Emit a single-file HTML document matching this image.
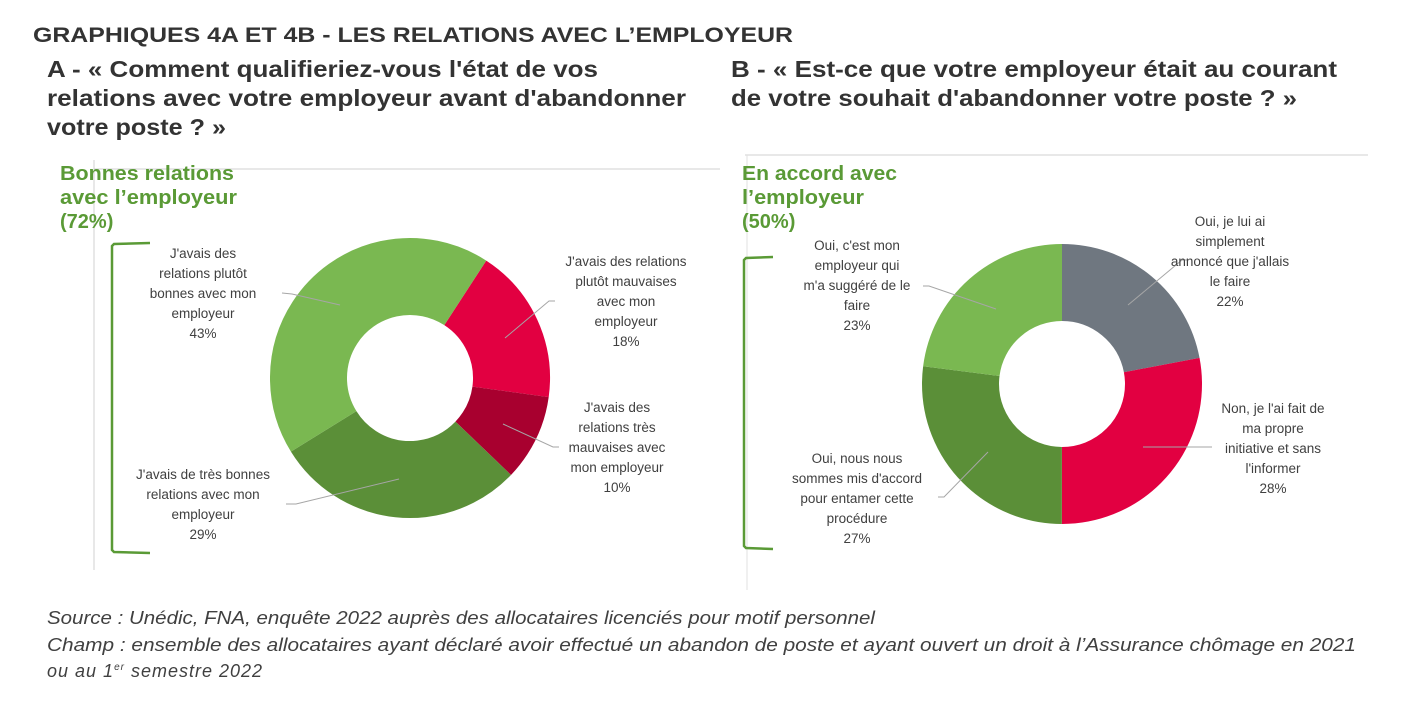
<!DOCTYPE html>
<html><head><meta charset="utf-8"><style>
html,body{margin:0;padding:0;background:#fff;}
svg{display:block;}
</style></head><body>
<svg width="1402" height="708" viewBox="0 0 1402 708" xmlns="http://www.w3.org/2000/svg" font-family="Liberation Sans, sans-serif">
<text x="33" y="42" font-size="21" font-weight="bold" fill="#333" textLength="760" lengthAdjust="spacingAndGlyphs">GRAPHIQUES 4A ET 4B - LES RELATIONS AVEC L’EMPLOYEUR</text>
<g font-size="23.5" font-weight="bold" fill="#333">
<text x="47" y="77" textLength="551" lengthAdjust="spacingAndGlyphs">A - « Comment qualifieriez-vous l'état de vos</text>
<text x="47" y="106" textLength="639" lengthAdjust="spacingAndGlyphs">relations avec votre employeur avant d'abandonner</text>
<text x="47" y="135" textLength="179" lengthAdjust="spacingAndGlyphs">votre poste ? »</text>
<text x="731" y="77" textLength="606" lengthAdjust="spacingAndGlyphs">B - « Est-ce que votre employeur était au courant</text>
<text x="731" y="106" textLength="566" lengthAdjust="spacingAndGlyphs">de votre souhait d'abandonner votre poste ? »</text>
</g>
<line x1="94" y1="169" x2="720" y2="169" stroke="#d0d0d0" stroke-width="1"/>
<line x1="94" y1="160" x2="94" y2="570" stroke="#d0d0d0" stroke-width="1"/>
<line x1="745" y1="155" x2="1368" y2="155" stroke="#d0d0d0" stroke-width="1"/>
<line x1="747" y1="155" x2="747" y2="590" stroke="#e0e0e0" stroke-width="1"/>
<g font-size="20" font-weight="bold" fill="#5a9a36">
<text x="60" y="180" textLength="174" lengthAdjust="spacingAndGlyphs">Bonnes relations</text>
<text x="60" y="204" textLength="177" lengthAdjust="spacingAndGlyphs">avec l’employeur</text>
<text x="60" y="228">(72%)</text>
<text x="742" y="180" textLength="155" lengthAdjust="spacingAndGlyphs">En accord avec</text>
<text x="742" y="204" textLength="122" lengthAdjust="spacingAndGlyphs">l’employeur</text>
<text x="742" y="228">(50%)</text>
</g>
<path d="M150,243 L114,244 L112,246 L112,550 L114,552 L150,553" fill="none" stroke="#5a9a36" stroke-width="2.5"/>
<path d="M773,257 L746,258 L744,260 L744,546 L746,548 L773,549" fill="none" stroke="#5a9a36" stroke-width="2.5"/>
<g transform="translate(410,378) rotate(-57)" fill="none" stroke-width="77">
<circle r="101.5" stroke="#e20041" stroke-dasharray="114.79 637.74" stroke-dashoffset="0"/>
<circle r="101.5" stroke="#a8002f" stroke-dasharray="63.77 637.74" stroke-dashoffset="-114.79"/>
<circle r="101.5" stroke="#5b8f38" stroke-dasharray="184.94 637.74" stroke-dashoffset="-178.57"/>
<circle r="101.5" stroke="#7ab851" stroke-dasharray="274.23 637.74" stroke-dashoffset="-363.51"/>
</g>
<g transform="translate(1062,384) rotate(-90)" fill="none" stroke-width="77">
<circle r="101.5" stroke="#6f7780" stroke-dasharray="140.30 637.74" stroke-dashoffset="0"/>
<circle r="101.5" stroke="#e20041" stroke-dasharray="178.57 637.74" stroke-dashoffset="-140.30"/>
<circle r="101.5" stroke="#5b8f38" stroke-dasharray="172.19 637.74" stroke-dashoffset="-318.87"/>
<circle r="101.5" stroke="#7ab851" stroke-dasharray="146.68 637.74" stroke-dashoffset="-491.06"/>
</g>
<g stroke="#a6a6a6" stroke-width="1" fill="none">
<polyline points="282,293 292,294 340,305"/>
<polyline points="555,301 549,301 505,338"/>
<polyline points="559,447 553,447 503,424"/>
<polyline points="286,504 296,504 399,479"/>
<polyline points="923,286 929,286 996,309"/>
<polyline points="1188,260 1182,260 1128,305"/>
<polyline points="1212,447 1143,447"/>
<polyline points="938,497 944,497 988,452"/>
</g>
<g font-size="13.5" fill="#404040" text-anchor="middle">
<text x="203" y="258">J'avais des</text><text x="203" y="278">relations plutôt</text><text x="203" y="298">bonnes avec mon</text><text x="203" y="318">employeur</text><text x="203" y="338">43%</text>
<text x="626" y="266">J'avais des relations</text><text x="626" y="286">plutôt mauvaises</text><text x="626" y="306">avec mon</text><text x="626" y="326">employeur</text><text x="626" y="346">18%</text>
<text x="617" y="412">J'avais des</text><text x="617" y="432">relations très</text><text x="617" y="452">mauvaises avec</text><text x="617" y="472">mon employeur</text><text x="617" y="492">10%</text>
<text x="203" y="479">J'avais de très bonnes</text><text x="203" y="499">relations avec mon</text><text x="203" y="519">employeur</text><text x="203" y="539">29%</text>
<text x="857" y="250">Oui, c'est mon</text><text x="857" y="270">employeur qui</text><text x="857" y="290">m'a suggéré de le</text><text x="857" y="310">faire</text><text x="857" y="330">23%</text>
<text x="1230" y="226">Oui, je lui ai</text><text x="1230" y="246">simplement</text><text x="1230" y="266">annoncé que j'allais</text><text x="1230" y="286">le faire</text><text x="1230" y="306">22%</text>
<text x="1273" y="413">Non, je l'ai fait de</text><text x="1273" y="433">ma propre</text><text x="1273" y="453">initiative et sans</text><text x="1273" y="473">l'informer</text><text x="1273" y="493">28%</text>
<text x="857" y="463">Oui, nous nous</text><text x="857" y="483">sommes mis d'accord</text><text x="857" y="503">pour entamer cette</text><text x="857" y="523">procédure</text><text x="857" y="543">27%</text>
</g>
<g font-size="18" font-style="italic" fill="#404040">
<text x="47" y="624" textLength="828" lengthAdjust="spacingAndGlyphs">Source :  Unédic, FNA, enquête 2022 auprès des allocataires licenciés pour motif personnel</text>
<text x="47" y="651" textLength="1309" lengthAdjust="spacingAndGlyphs">Champ : ensemble des allocataires ayant déclaré avoir effectué un abandon de poste et ayant ouvert un droit à l’Assurance chômage en 2021</text>
<text x="47" y="677" letter-spacing="1">ou au 1<tspan font-size="10" dy="-7">er</tspan><tspan dy="7"> semestre 2022</tspan></text>
</g>
</svg>
</body></html>
